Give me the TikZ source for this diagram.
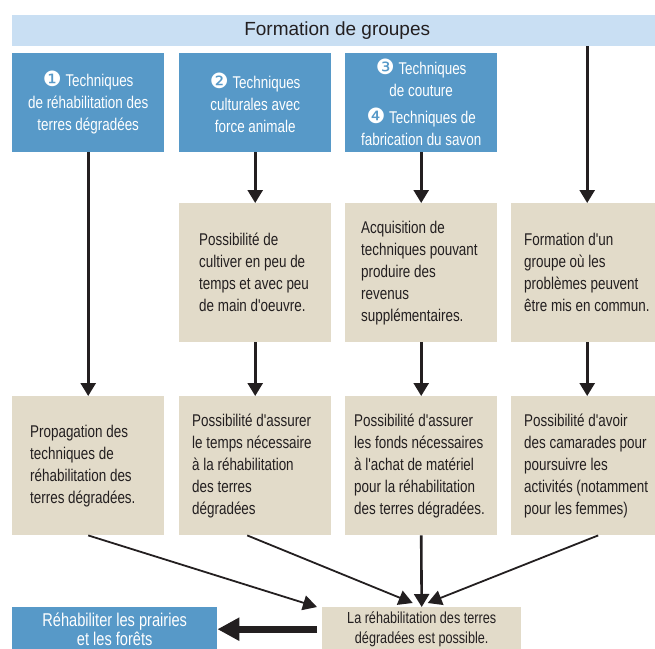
\documentclass[tikz,border=0pt]{standalone}
\usepackage{fontspec}
\setmainfont{Liberation Sans}
\newfontfamily\condfont[FakeStretch=0.79]{Liberation Sans}
\newfontfamily\numfont{DejaVu Sans}
\usetikzlibrary{arrows.meta}
\hyphenpenalty=10000
\exhyphenpenalty=10000

\definecolor{barblue}{RGB}{201,223,243}
\definecolor{boxblue}{RGB}{87,153,200}
\definecolor{sand}{RGB}{226,219,201}
\definecolor{ink}{RGB}{35,31,32}

\newcommand{\numcirc}[1]{{\numfont\fontsize{21}{15}\selectfont#1}}

\tikzset{
    bluebox/.style={
        fill=boxblue,
        text=white,
        anchor=north west,
        minimum width=152pt,
        minimum height=99pt,
        inner sep=0pt,
        align=center,
        font=\condfont\fontsize{17}{22}\selectfont},
    sandbox/.style={
        fill=sand,
        text=ink,
        anchor=north west,
        minimum width=152pt,
        minimum height=139pt,
        inner xsep=13pt,
        inner ysep=0pt,
        text width=126pt,
        align=flush left,
        font=\condfont\fontsize{17}{22}\selectfont},
    arrowline/.style={
        draw=ink,
        line width=2.6pt,
        -{Triangle[width=15pt,length=13pt]}},
    slantline/.style={
        draw=ink,
        line width=1.8pt,
        -{Triangle[width=15pt,length=14pt]}},
    bigarrow/.style={
        draw=ink,
        line width=7pt,
        -{Triangle[width=22pt,length=22pt]}}
}

\begin{document}
\begin{tikzpicture}[x=1pt, y=-1pt]
    \useasboundingbox (0,0) rectangle (655,648);

    % title bar
    \node[
        fill=barblue,
        anchor=north west,
        minimum width=650pt,
        minimum height=31pt,
        inner sep=0pt,
        text=ink,
        font=\fontsize{19}{19}\selectfont]
        (bar) at (12,15) {Formation de groupes};

    % 01. techniques
    \node[bluebox] (tech1) at (12,53)
        {\numcirc{❶} Techniques\\de réhabilitation des\\terres dégradées};
    \node[bluebox] (tech2) at (179,53)
        {\numcirc{❷} Techniques\\culturales avec\\force animale};
    \node[bluebox] (tech3) at (345,53)
        {\numcirc{❸} Techniques\\de couture\\[5pt]\numcirc{❹} Techniques de\\fabrication du savon};

    % 02. effects
    \node[
        sandbox,
        inner xsep=20pt,
        text width=112pt]
        (cult) at (179,203)
        {Possibilité de\\cultiver en peu de\\temps et avec peu\\de main d'oeuvre.};
    \node[
        sandbox,
        inner xsep=16pt,
        text width=120pt]
        (rev) at (345,203)
        {Acquisition de\\techniques pouvant\\produire des\\revenus\\supplémentaires.};
    \node[sandbox] (grp) at (511,203)
        {Formation d'un\\groupe où les\\problèmes peuvent\\être mis en commun.};

    % 03. possibilities
    \node[
        sandbox,
        inner xsep=18pt,
        text width=116pt]
        (prop) at (12,396)
        {Propagation des\\techniques de\\réhabilitation des\\terres dégradées.};
    \node[sandbox] (temps) at (179,396)
        {Possibilité d'assurer\\le temps nécessaire\\à la réhabilitation\\des terres\\dégradées};
    \node[
        sandbox,
        inner xsep=9pt,
        text width=134pt]
        (fonds) at (345,396)
        {Possibilité d'assurer\\les fonds nécessaires\\à l'achat de matériel\\pour la réhabilitation\\des terres dégradées.};
    \node[sandbox] (cam) at (511,396)
        {Possibilité d'avoir\\des camarades pour\\poursuivre les\\activités (notamment\\pour les femmes)};

    % 04. result
    \node[
        fill=sand,
        text=ink,
        anchor=north west,
        minimum width=199pt,
        minimum height=44pt,
        inner sep=0pt,
        align=center,
        font=\condfont\fontsize{16}{19.5}\selectfont]
        (possible) at (322,607)
        {La réhabilitation des terres\\dégradées est possible.};
    \node[
        bluebox,
        minimum width=205pt,
        minimum height=44pt,
        font=\condfont\fontsize{18.5}{19.5}\selectfont]
        (prairies) at (12,607)
        {Réhabiliter les prairies\\et les forêts};

    \draw[arrowline] (tech1.south) -- (prop.north);
    \draw[arrowline] (tech2.south) -- (cult.north);
    \draw[arrowline] (tech3.south) -- (rev.north);
    \draw[arrowline] (bar.south -| grp.north) -- (grp.north);
    \draw[arrowline] (cult.south) -- (temps.north);
    \draw[arrowline] (rev.south) -- (fonds.north);
    \draw[arrowline] (grp.south) -- (cam.north);

    \draw[slantline] (prop.south) -- ([xshift=-5pt]possible.north west);
    \draw[slantline] ([xshift=-8pt]temps.south) -- ([xshift=-9pt,yshift=4pt]possible.north);
    \draw[arrowline] (fonds.south) -- (possible.north);
    \draw[slantline] ([xshift=11pt]cam.south) -- ([xshift=6pt,yshift=4pt]possible.north);

    \draw[bigarrow, shorten <=5pt] (possible.west) -- (prairies.east);
\end{tikzpicture}
\end{document}
